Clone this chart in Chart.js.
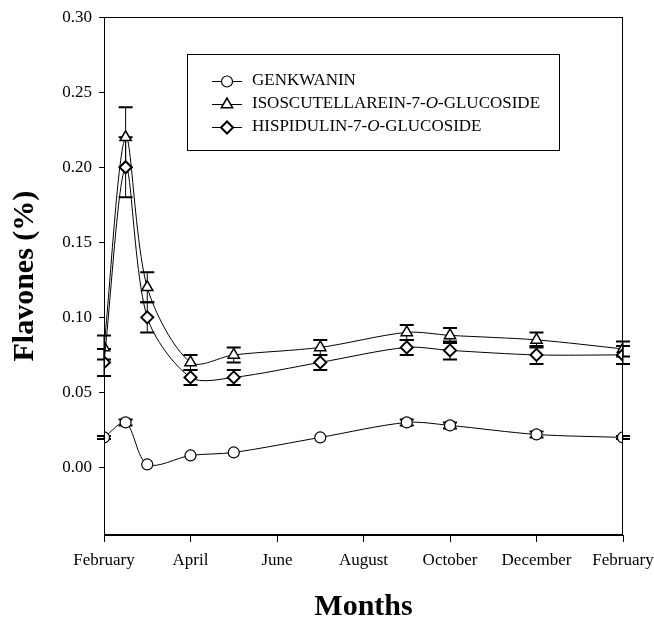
<!DOCTYPE html>
<html lang="en">
<head>
<meta charset="utf-8">
<title>Flavones</title>
<script src="https://cdn.jsdelivr.net/npm/chart.js@4.4.1/dist/chart.umd.min.js"></script>
<style>
  html, body { margin: 0; padding: 0; background: #fff; }
  #flavones-chart { display: block; }
</style>
</head>
<body>
<canvas id="flavones-chart" width="654" height="619"></canvas>
<script>
// Meses de muestreo (0 = febrero, 12 = febrero del año siguiente)
const months = [0, 0.5, 1, 2, 3, 5, 7, 8, 10, 12];

// Contenido de flavonas (%) y su error estándar
const genkwanin = [0.020, 0.030, 0.002, 0.008, 0.010, 0.020, 0.030, 0.028, 0.022, 0.020];
const genkwaninErr = [0.001, 0.002, 0, 0, 0, 0, 0.002, 0.002, 0.002, 0.001];

const isoscutellarein = [0.080, 0.220, 0.120, 0.070, 0.075, 0.080, 0.090, 0.088, 0.085, 0.079];
const isoscutellareinErr = [0.008, 0.020, 0.010, 0.005, 0.005, 0.005, 0.005, 0.005, 0.005, 0.005];

const hispidulin = [0.070, 0.200, 0.100, 0.060, 0.060, 0.070, 0.080, 0.078, 0.075, 0.075];
const hispidulinErr = [0.009, 0.020, 0.010, 0.005, 0.005, 0.005, 0.005, 0.006, 0.006, 0.006];

// Marcas de los ejes
const monthTicks = [0, 2, 4, 6, 8, 10, 12];
const monthLabels = ['February', 'April', 'June', 'August', 'October', 'December', 'February'];
const flavoneTicks = [0, 0.05, 0.10, 0.15, 0.20, 0.25, 0.30];

const serif = '"Liberation Serif", "Times New Roman", serif';

function toPoints(values) {
  return months.map((m, i) => ({ x: m, y: values[i] }));
}

/**
 * Dibuja las barras de error con las escalas del gráfico
 */
const errorBarsPlugin = {
  id: 'errorBars',
  beforeDatasetsDraw(chart) {
    const { ctx, scales: { x, y } } = chart;
    ctx.save();
    ctx.strokeStyle = '#000';
    chart.data.datasets.forEach((ds) => {
      ds.data.forEach((p, j) => {
        const err = ds.errors[j];
        if (!err) return;
        const px = x.getPixelForValue(p.x);
        const top = y.getPixelForValue(p.y + err);
        const bottom = y.getPixelForValue(p.y - err);
        ctx.lineWidth = 1;
        ctx.beginPath();
        ctx.moveTo(px, top);
        ctx.lineTo(px, bottom);
        ctx.stroke();
        ctx.lineWidth = 2;
        ctx.beginPath();
        ctx.moveTo(px - 7, top);
        ctx.lineTo(px + 7, top);
        ctx.moveTo(px - 7, bottom);
        ctx.lineTo(px + 7, bottom);
        ctx.stroke();
      });
    });
    ctx.restore();
  }
};

/**
 * Marco completo alrededor del área de datos
 */
const framePlugin = {
  id: 'frame',
  afterDraw(chart) {
    const { ctx, chartArea: a } = chart;
    ctx.save();
    ctx.strokeStyle = '#000';
    ctx.lineWidth = 1;
    ctx.strokeRect(Math.round(a.left) + 0.5, Math.round(a.top) + 0.5,
      Math.round(a.right - a.left) - 1, Math.round(a.bottom - a.top) - 1);
    ctx.restore();
  }
};

// Leyenda dentro del gráfico, como en la figura original
const legendBox = { left: 187, top: 54, width: 372, height: 96 };
const legendRows = [81, 104, 127];

function drawLabel(ctx, text, x, y) {
  const regular = '17px ' + serif;
  const italic = 'italic 17px ' + serif;
  const parts = text.split('-O-');
  ctx.font = regular;
  if (parts.length === 1) {
    ctx.fillText(text, x, y);
    return;
  }
  ctx.fillText(parts[0] + '-', x, y);
  x += ctx.measureText(parts[0] + '-').width;
  ctx.font = italic;
  ctx.fillText('O', x, y);
  x += ctx.measureText('O').width;
  ctx.font = regular;
  ctx.fillText('-' + parts[1], x, y);
}

const insideLegendPlugin = {
  id: 'insideLegend',
  afterDraw(chart) {
    const { ctx } = chart;
    ctx.save();
    ctx.strokeStyle = '#000';
    ctx.lineWidth = 1;
    ctx.strokeRect(legendBox.left + 0.5, legendBox.top + 0.5, legendBox.width, legendBox.height);
    ctx.fillStyle = '#000';
    ctx.textBaseline = 'middle';
    chart.data.datasets.forEach((ds, i) => {
      const y = legendRows[i];
      ctx.strokeStyle = '#000';
      ctx.lineWidth = 1;
      ctx.beginPath();
      ctx.moveTo(212, y + 0.5);
      ctx.lineTo(242, y + 0.5);
      ctx.stroke();
      ctx.fillStyle = '#fff';
      ctx.lineWidth = ds.pointBorderWidth;
      Chart.helpers.drawPoint(ctx, {
        pointStyle: ds.pointStyle,
        radius: ds.pointRadius,
        borderWidth: ds.pointBorderWidth,
        rotation: 0
      }, 227, y + 0.5);
      ctx.fillStyle = '#000';
      drawLabel(ctx, ds.label, 252, y);
    });
    ctx.restore();
  }
};

function makeDataset(label, values, errors, style, radius, width, order) {
  return {
    label: label,
    data: toPoints(values),
    errors: errors,
    borderColor: '#000',
    borderWidth: 1,
    tension: 0.3,
    pointStyle: style,
    pointRadius: radius,
    pointBorderWidth: width,
    pointBackgroundColor: '#fff',
    pointBorderColor: '#000',
    order: order
  };
}

new Chart(document.getElementById('flavones-chart'), {
  type: 'line',
  data: {
    datasets: [
      makeDataset('GENKWANIN', genkwanin, genkwaninErr, 'circle', 5.5, 1.2, 2),
      makeDataset('ISOSCUTELLAREIN-7-O-GLUCOSIDE', isoscutellarein, isoscutellareinErr, 'triangle', 6.5, 1.5, 1),
      makeDataset('HISPIDULIN-7-O-GLUCOSIDE', hispidulin, hispidulinErr, 'rectRot', 6, 2, 0)
    ]
  },
  options: {
    responsive: false,
    animation: false,
    layout: { padding: { left: 0, right: 31, top: 17, bottom: 0 } },
    plugins: {
      legend: { display: false },
      tooltip: { enabled: false }
    },
    scales: {
      x: {
        type: 'linear',
        min: 0,
        max: 12,
        afterBuildTicks: (axis) => { axis.ticks = monthTicks.map(v => ({ value: v })); },
        afterFit: (axis) => {
          axis.height = 84;
          axis.paddingLeft = 0;
          axis.paddingRight = 0;
        },
        ticks: {
          color: '#000',
          font: { family: serif, size: 17 },
          padding: 8,
          maxRotation: 0,
          autoSkip: false,
          callback: (value, index) => monthLabels[index]
        },
        grid: { drawOnChartArea: false, drawTicks: true, tickLength: 7, color: '#000' },
        border: { display: true, color: '#000', width: 1 },
        title: {
          display: true,
          text: 'Months',
          color: '#000',
          font: { family: serif, size: 30, weight: 'bold', lineHeight: 1 },
          padding: { top: 0, bottom: -3 }
        }
      },
      y: {
        type: 'linear',
        min: -0.045,
        max: 0.30,
        afterBuildTicks: (axis) => { axis.ticks = flavoneTicks.map(v => ({ value: v })); },
        afterFit: (axis) => { axis.width = 104; },
        ticks: {
          color: '#000',
          font: { family: serif, size: 17 },
          padding: 7,
          callback: (value) => value.toFixed(2)
        },
        grid: { drawOnChartArea: false, drawTicks: true, tickLength: 5, color: '#000' },
        border: { display: true, color: '#000', width: 1 },
        title: {
          display: true,
          text: 'Flavones (%)',
          color: '#000',
          font: { family: serif, size: 30, weight: 'bold', lineHeight: 1 },
          padding: { top: 10, bottom: 0 }
        }
      }
    }
  },
  plugins: [errorBarsPlugin, framePlugin, insideLegendPlugin]
});
</script>
</body>
</html>
